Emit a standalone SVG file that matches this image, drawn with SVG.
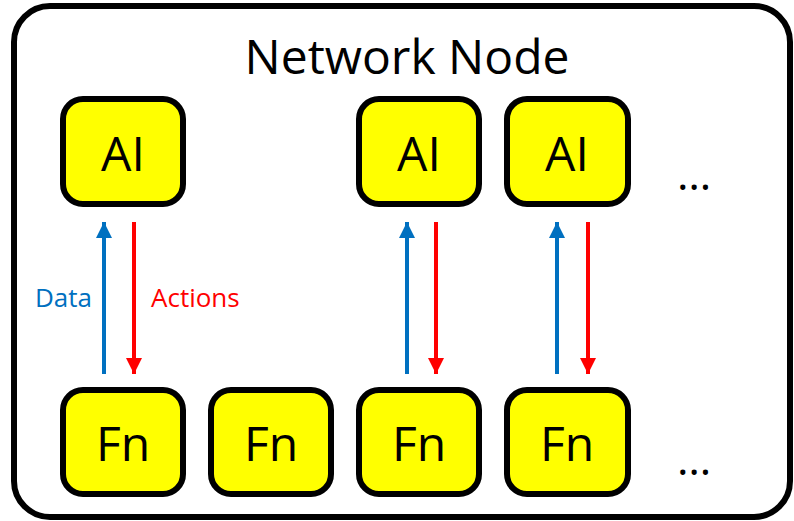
<svg xmlns="http://www.w3.org/2000/svg" width="794" height="521" viewBox="0 0 794 521">
  <defs>
    <marker id="headBlue" viewBox="0 0 10 10" refX="10" refY="5" markerUnits="userSpaceOnUse" markerWidth="16" markerHeight="16" orient="auto">
      <path d="M0,0 L10,5 L0,10 Z" fill="#0070C0"/>
    </marker>
    <marker id="headRed" viewBox="0 0 10 10" refX="10" refY="5" markerUnits="userSpaceOnUse" markerWidth="16" markerHeight="16" orient="auto">
      <path d="M0,0 L10,5 L0,10 Z" fill="#FF0000"/>
    </marker>
  </defs>
  <style>
    .box { fill: #FFFF00; stroke: #000; stroke-width: 6; }
    .lbl { font-family: "Open Sans", "Noto Sans", sans-serif; font-size: 48px; fill: #000; text-anchor: middle; }
    .data { stroke: #0070C0; stroke-width: 4; fill: none; marker-end: url(#headBlue); }
    .act { stroke: #FF0000; stroke-width: 4; fill: none; marker-end: url(#headRed); }
    .small { font-family: "Open Sans", "Noto Sans", sans-serif; font-size: 26px; }
    .dots { font-family: "Open Sans", "Noto Sans", sans-serif; font-size: 44px; fill: #000; text-anchor: middle; }
  </style>

  <!-- container -->
  <g id="network-node">
    <rect x="14" y="6" width="776" height="511" rx="36" fill="#fff" stroke="#000" stroke-width="6"/>
    <text class="lbl" x="407" y="74">Network Node</text>
  </g>

  <!-- AI row -->
  <g id="ai1"><rect class="box" x="63" y="99" width="120" height="105" rx="20"/><text class="lbl" x="123" y="171">AI</text></g>
  <g id="ai3"><rect class="box" x="359" y="99" width="120" height="105" rx="20"/><text class="lbl" x="419" y="171">AI</text></g>
  <g id="ai4"><rect class="box" x="507" y="99" width="121" height="105" rx="20"/><text class="lbl" x="567" y="171">AI</text></g>

  <!-- function row -->
  <g id="fn1"><rect class="box" x="63" y="390" width="120" height="104" rx="20"/><text class="lbl" x="123" y="461">Fn</text></g>
  <g id="fn2"><rect class="box" x="211" y="390" width="120" height="104" rx="20"/><text class="lbl" x="271" y="461">Fn</text></g>
  <g id="fn3"><rect class="box" x="359" y="390" width="120" height="104" rx="20"/><text class="lbl" x="419" y="461">Fn</text></g>
  <g id="fn4"><rect class="box" x="507" y="390" width="121" height="104" rx="20"/><text class="lbl" x="567" y="461">Fn</text></g>

  <g id="more-ai"><text class="dots" x="694" y="190">…</text></g>
  <g id="more-fn"><text class="dots" x="694" y="475">…</text></g>

  <!-- connectors -->
  <g id="connectors">
    <line class="data" x1="104" y1="374" x2="104" y2="222"/>
    <line class="act" x1="134" y1="222" x2="134" y2="374"/>
    <line class="data" x1="407" y1="374" x2="407" y2="222"/>
    <line class="act" x1="436" y1="222" x2="436" y2="374"/>
    <line class="data" x1="557" y1="374" x2="557" y2="222"/>
    <line class="act" x1="588" y1="222" x2="588" y2="374"/>
    <text class="small" x="35" y="307" fill="#0070C0">Data</text>
    <text class="small" x="151" y="307" fill="#FF0000">Actions</text>
  </g>
</svg>
